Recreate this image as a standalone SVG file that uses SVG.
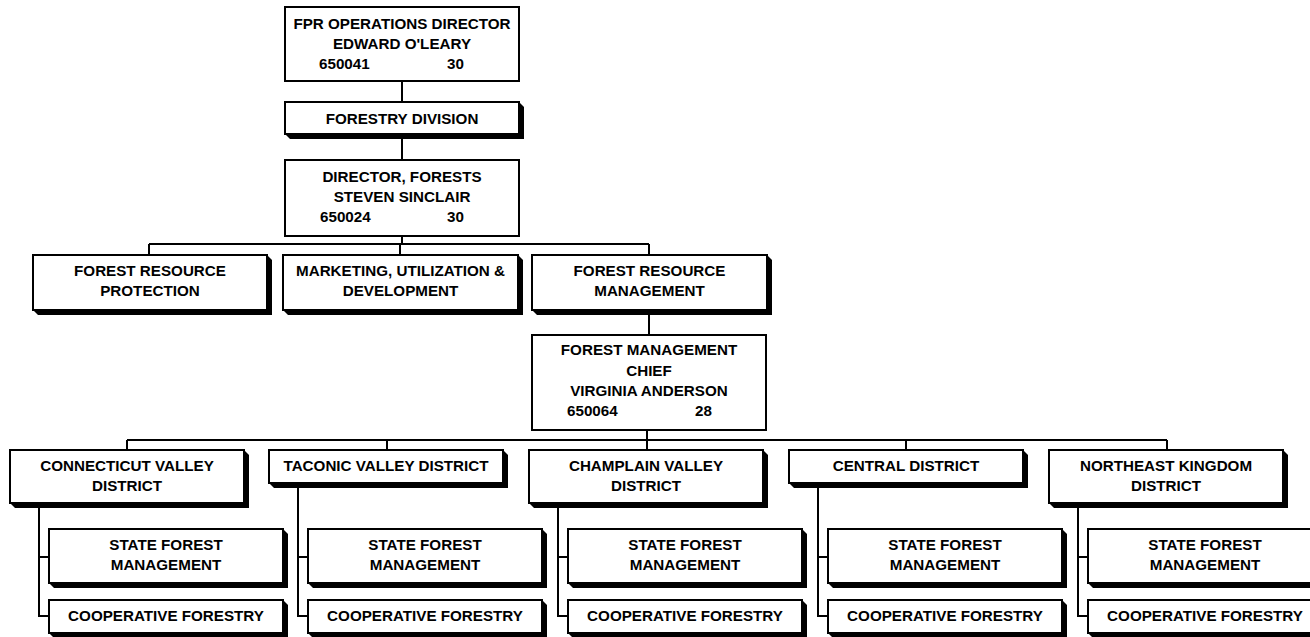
<svg xmlns="http://www.w3.org/2000/svg" width="1310" height="637" viewBox="0 0 1310 637">
<style>
.box{fill:#fff;stroke:#000;stroke-width:2}
.sh{fill:#000}
.t{font-family:"Liberation Sans",Arial,sans-serif;font-weight:bold;font-size:15.2px;fill:#000;text-anchor:middle}
.n{text-anchor:start}
.c{fill:none;stroke:#000;stroke-width:2}
</style>
<rect width="1310" height="637" fill="#fff"/>
<g id="connectors" class="c">
<path d="M402,81V102M402,134V160M402,236V244M149,244H649M149,244V255M400,244V255M649,244V255M649,310V335M647,430V440M127,440H1167M127,440V450M387,440V450M647,440V450M906,440V450M1167,440V450"/>
<path d="M39,503V616H49M39,557H49"/>
<path d="M298,483V616H308M298,557H308"/>
<path d="M558,503V616H568M558,557H568"/>
<path d="M818,483V616H828M818,557H828"/>
<path d="M1078,503V616H1088M1078,557H1088"/>
</g>
<g id="n_top">
<rect class="box" x="285" y="7" width="234" height="74"/>
<text class="t" x="402" y="29">FPR OPERATIONS DIRECTOR</text>
<text class="t" x="402" y="49">EDWARD O'LEARY</text>
<text class="t n" x="319" y="69">650041</text>
<text class="t n" x="447" y="69">30</text>
</g>
<g id="n_fd">
<polygon class="sh" points="519,102 524,107 524,139 290,139 285,134"/>
<rect class="box" x="285" y="102" width="234" height="32"/>
<text class="t" x="402" y="123.5">FORESTRY DIVISION</text>
</g>
<g id="n_dir">
<rect class="box" x="285" y="160" width="234" height="76"/>
<text class="t" x="402" y="182">DIRECTOR, FORESTS</text>
<text class="t" x="402" y="202">STEVEN SINCLAIR</text>
<text class="t n" x="320" y="222">650024</text>
<text class="t n" x="447" y="222">30</text>
</g>
<g id="n_frp">
<polygon class="sh" points="267,255 272,260 272,315 38,315 33,310"/>
<rect class="box" x="33" y="255" width="234" height="55"/>
<text class="t" x="150" y="276">FOREST RESOURCE</text>
<text class="t" x="150" y="296">PROTECTION</text>
</g>
<g id="n_mud">
<polygon class="sh" points="518,255 523,260 523,315 288,315 283,310"/>
<rect class="box" x="283" y="255" width="235" height="55"/>
<text class="t" x="400.5" y="276">MARKETING, UTILIZATION &amp;</text>
<text class="t" x="400.5" y="296">DEVELOPMENT</text>
</g>
<g id="n_frm">
<polygon class="sh" points="767,255 772,260 772,315 537,315 532,310"/>
<rect class="box" x="532" y="255" width="235" height="55"/>
<text class="t" x="649.5" y="276">FOREST RESOURCE</text>
<text class="t" x="649.5" y="296">MANAGEMENT</text>
</g>
<g id="n_chief">
<rect class="box" x="532" y="335" width="234" height="95"/>
<text class="t" x="649" y="355">FOREST MANAGEMENT</text>
<text class="t" x="649" y="375.5">CHIEF</text>
<text class="t" x="649" y="396">VIRGINIA ANDERSON</text>
<text class="t n" x="567" y="416">650064</text>
<text class="t n" x="695" y="416">28</text>
</g>
<g id="n_cv">
<polygon class="sh" points="244,450 249,455 249,508 15,508 10,503"/>
<rect class="box" x="10" y="450" width="234" height="53"/>
<text class="t" x="127" y="471">CONNECTICUT VALLEY</text>
<text class="t" x="127" y="491">DISTRICT</text>
</g>
<g id="n_cv_sfm">
<polygon class="sh" points="283,529 288,534 288,588 54,588 49,583"/>
<rect class="box" x="49" y="529" width="234" height="54"/>
<text class="t" x="166" y="550">STATE FOREST</text>
<text class="t" x="166" y="570">MANAGEMENT</text>
</g>
<g id="n_cv_coop">
<polygon class="sh" points="283,600 288,605 288,638 54,638 49,633"/>
<rect class="box" x="49" y="600" width="234" height="33"/>
<text class="t" x="166" y="621">COOPERATIVE FORESTRY</text>
</g>
<g id="n_tv">
<polygon class="sh" points="503,450 508,455 508,488 274,488 269,483"/>
<rect class="box" x="269" y="450" width="234" height="33"/>
<text class="t" x="386" y="471">TACONIC VALLEY DISTRICT</text>
</g>
<g id="n_tv_sfm">
<polygon class="sh" points="542,529 547,534 547,588 313,588 308,583"/>
<rect class="box" x="308" y="529" width="234" height="54"/>
<text class="t" x="425" y="550">STATE FOREST</text>
<text class="t" x="425" y="570">MANAGEMENT</text>
</g>
<g id="n_tv_coop">
<polygon class="sh" points="542,600 547,605 547,638 313,638 308,633"/>
<rect class="box" x="308" y="600" width="234" height="33"/>
<text class="t" x="425" y="621">COOPERATIVE FORESTRY</text>
</g>
<g id="n_chv">
<polygon class="sh" points="763,450 768,455 768,508 534,508 529,503"/>
<rect class="box" x="529" y="450" width="234" height="53"/>
<text class="t" x="646" y="471">CHAMPLAIN VALLEY</text>
<text class="t" x="646" y="491">DISTRICT</text>
</g>
<g id="n_chv_sfm">
<polygon class="sh" points="802,529 807,534 807,588 573,588 568,583"/>
<rect class="box" x="568" y="529" width="234" height="54"/>
<text class="t" x="685" y="550">STATE FOREST</text>
<text class="t" x="685" y="570">MANAGEMENT</text>
</g>
<g id="n_chv_coop">
<polygon class="sh" points="802,600 807,605 807,638 573,638 568,633"/>
<rect class="box" x="568" y="600" width="234" height="33"/>
<text class="t" x="685" y="621">COOPERATIVE FORESTRY</text>
</g>
<g id="n_cen">
<polygon class="sh" points="1023,450 1028,455 1028,488 794,488 789,483"/>
<rect class="box" x="789" y="450" width="234" height="33"/>
<text class="t" x="906" y="471">CENTRAL DISTRICT</text>
</g>
<g id="n_cen_sfm">
<polygon class="sh" points="1062,529 1067,534 1067,588 833,588 828,583"/>
<rect class="box" x="828" y="529" width="234" height="54"/>
<text class="t" x="945" y="550">STATE FOREST</text>
<text class="t" x="945" y="570">MANAGEMENT</text>
</g>
<g id="n_cen_coop">
<polygon class="sh" points="1062,600 1067,605 1067,638 833,638 828,633"/>
<rect class="box" x="828" y="600" width="234" height="33"/>
<text class="t" x="945" y="621">COOPERATIVE FORESTRY</text>
</g>
<g id="n_nek">
<polygon class="sh" points="1283,450 1288,455 1288,508 1054,508 1049,503"/>
<rect class="box" x="1049" y="450" width="234" height="53"/>
<text class="t" x="1166" y="471">NORTHEAST KINGDOM</text>
<text class="t" x="1166" y="491">DISTRICT</text>
</g>
<g id="n_nek_sfm">
<polygon class="sh" points="1322,529 1327,534 1327,588 1093,588 1088,583"/>
<rect class="box" x="1088" y="529" width="234" height="54"/>
<text class="t" x="1205" y="550">STATE FOREST</text>
<text class="t" x="1205" y="570">MANAGEMENT</text>
</g>
<g id="n_nek_coop">
<polygon class="sh" points="1322,600 1327,605 1327,638 1093,638 1088,633"/>
<rect class="box" x="1088" y="600" width="234" height="33"/>
<text class="t" x="1205" y="621">COOPERATIVE FORESTRY</text>
</g>
</svg>
